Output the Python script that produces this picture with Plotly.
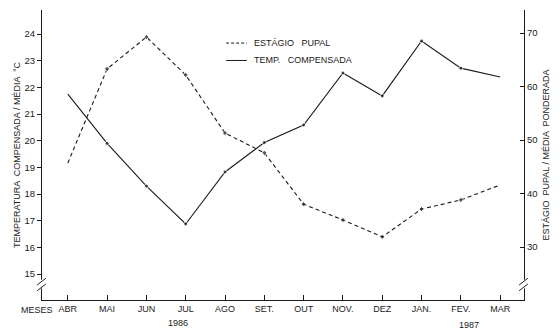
import plotly.graph_objects as go

months = ["ABR", "MAI", "JUN", "JUL", "AGO", "SET.", "OUT", "NOV.", "DEZ", "JAN.", "FEV.", "MAR"]
temp_comp = [21.75, 19.9, 18.3, 16.88, 18.83, 19.93, 20.59, 22.54, 21.68, 23.74, 22.72, 22.39]
pupal = [45.7, 63.3, 69.25, 62.15, 51.3, 47.6, 38.0, 35.05, 31.9, 37.1, 38.8, 41.6]
left_ticks = list(range(15, 25))
right_ticks = [30, 40, 50, 60, 70]

x = list(range(len(months)))
msize = [0] + [4] * (len(months) - 2) + [0]
FONT = "Liberation Sans"
ink = "#1a1a1a"

fig = go.Figure()
fig.add_trace(go.Scatter(x=x, y=temp_comp, mode="lines+markers", showlegend=False,
                         line=dict(color=ink, width=1.1),
                         marker=dict(color=ink, size=msize)))
fig.add_trace(go.Scatter(x=x, y=pupal, mode="lines+markers", yaxis="y2", showlegend=False,
                         line=dict(color=ink, width=1.1, dash="4px,3px"),
                         marker=dict(color=ink, size=msize, symbol="diamond")))

fig.update_layout(
    width=560, height=331,
    margin=dict(l=42, r=33, t=10, b=31),
    paper_bgcolor="white", plot_bgcolor="white",
    font=dict(family=FONT, size=9, color=ink),
    xaxis=dict(range=[-0.657, 11.607], tickmode="array", tickvals=x, ticktext=months,
               ticks="inside", ticklen=5, tickcolor=ink, showline=True, linecolor=ink,
               linewidth=1, showgrid=False, zeroline=False, tickfont=dict(size=9)),
    yaxis=dict(range=[14.03, 24.9], tickmode="array", tickvals=left_ticks,
               ticks="outside", ticklen=4, tickcolor=ink, showline=True, linecolor=ink,
               linewidth=1, showgrid=False, zeroline=False, tickfont=dict(size=9.5),
               title=dict(text="TEMPERATURA  COMPENSADA / MÉDIA  °C", font=dict(size=9), standoff=2)),
    yaxis2=dict(range=[20.1, 74.3], overlaying="y", side="right", tickmode="array",
                tickvals=right_ticks, ticks="inside", ticklen=4, tickcolor=ink,
                showline=True, linecolor=ink, linewidth=1, showgrid=False, zeroline=False,
                tickfont=dict(size=9.5),
                title=dict(text="ESTÁGIO  PUPAL / MÉDIA  PONDERADA", font=dict(size=9), standoff=6)),
    showlegend=False,
)

# legend (drawn manually)
fig.add_shape(type="line", xref="paper", yref="paper", x0=0.382, x1=0.425, y0=0.886, y1=0.886,
              line=dict(color=ink, width=1, dash="3px,2px"))
fig.add_shape(type="line", xref="paper", yref="paper", x0=0.382, x1=0.425, y0=0.826, y1=0.826,
              line=dict(color=ink, width=1))
fig.add_annotation(xref="paper", yref="paper", x=0.435, y=0.886, text="ESTÁGIO   PUPAL",
                   showarrow=False, xanchor="left", yanchor="middle", font=dict(size=9))
fig.add_annotation(xref="paper", yref="paper", x=0.435, y=0.826, text="TEMP.   COMPENSADA",
                   showarrow=False, xanchor="left", yanchor="middle", font=dict(size=9))

# labels below axis
fig.add_annotation(xref="paper", yref="paper", x=-0.01, y=-0.033, text="MESES", showarrow=False,
                   xanchor="center", yanchor="middle", font=dict(size=9))
fig.add_annotation(xref="x", yref="paper", x=2.8, y=-0.078, text="1986", showarrow=False,
                   xanchor="center", yanchor="middle", font=dict(size=9))
fig.add_annotation(xref="x", yref="paper", x=10.2, y=-0.085, text="1987", showarrow=False,
                   xanchor="center", yanchor="middle", font=dict(size=9))

# axis break marks
for xp in (0.0, 1.0):
    fig.add_shape(type="rect", xref="paper", yref="paper", x0=xp - 0.004, x1=xp + 0.004,
                  y0=0.04, y1=0.07, fillcolor="white", line=dict(width=0))
    fig.add_shape(type="line", xref="paper", yref="paper", x0=xp - 0.01, x1=xp + 0.008,
                  y0=0.052, y1=0.075, line=dict(color=ink, width=1))
    fig.add_shape(type="line", xref="paper", yref="paper", x0=xp - 0.01, x1=xp + 0.008,
                  y0=0.032, y1=0.055, line=dict(color=ink, width=1))

fig.write_html("out.html")
